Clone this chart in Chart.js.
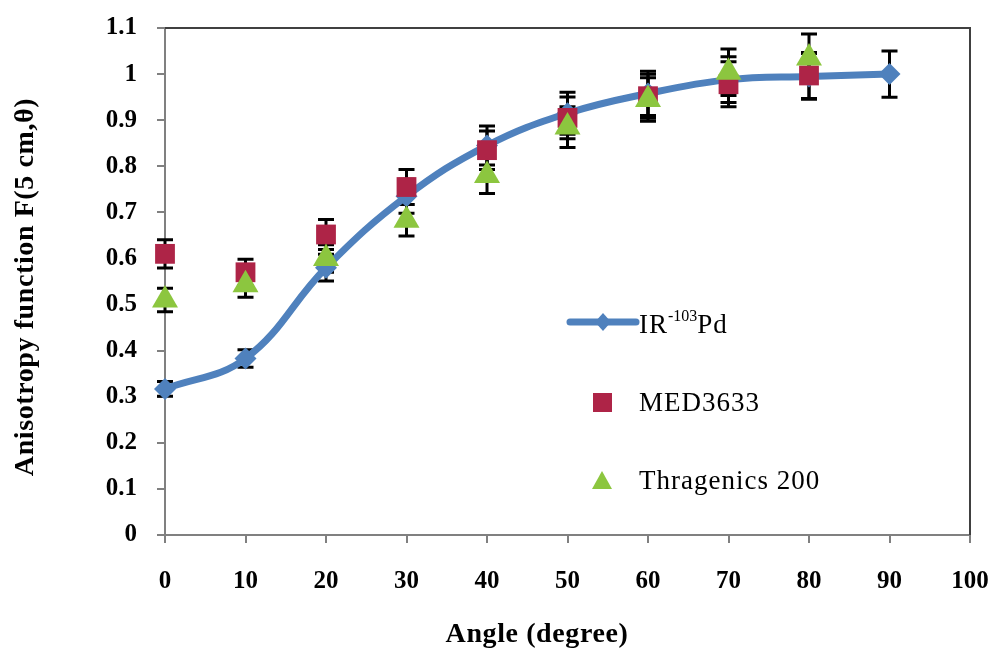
<!DOCTYPE html>
<html>
<head>
<meta charset="utf-8">
<script src="https://cdn.jsdelivr.net/npm/chart.js@4.4.1/dist/chart.umd.min.js"></script>
<style>
  html, body { margin: 0; padding: 0; background: #fff; }
  #wrap { width: 995px; height: 656px; position: relative; }
</style>
</head>
<body>
<div id="wrap"><canvas id="chart"></canvas></div>
<script>
// values
const angles = [0, 10, 20, 30, 40, 50, 60, 70, 80, 90];
const irPd = [0.317, 0.383, 0.58, 0.735, 0.845, 0.915, 0.958, 0.988, 0.995, 1.0];
const sourceAngles = [0, 10, 20, 30, 40, 50, 60, 70, 80];
const med3633 = [0.61, 0.57, 0.652, 0.755, 0.835, 0.905, 0.952, 0.978, 0.997];
const thragenics = [0.51, 0.543, 0.6, 0.683, 0.78, 0.885, 0.945, 1.004, 1.035];
const xTicks = [0, 10, 20, 30, 40, 50, 60, 70, 80, 90, 100];
const yTicks = [0, 0.1, 0.2, 0.3, 0.4, 0.5, 0.6, 0.7, 0.8, 0.9, 1, 1.1];
const errorFraction = 0.05;

const serif = "'Liberation Serif', 'Times New Roman', serif";
const blue = "#4F81BD";
const crimson = "#AE2447";
const green = "#8CC63F";

function toPoints(xs, ys) {
  return xs.map(function (x, i) { return { x: x, y: ys[i] }; });
}

const frame = {
  id: "frame",
  beforeDatasetsDraw(chart) {
    const a = chart.chartArea;
    const ctx = chart.ctx;
    ctx.save();
    ctx.strokeStyle = "#404040";
    ctx.lineWidth = 2;
    ctx.beginPath();
    ctx.moveTo(a.left, a.top);
    ctx.lineTo(a.right, a.top);
    ctx.lineTo(a.right, a.bottom);
    ctx.stroke();
    ctx.restore();
  }
};

const errorBars = {
  id: "errorBars",
  beforeDatasetsDraw(chart) {
    const ctx = chart.ctx;
    const yScale = chart.scales.y;
    ctx.save();
    ctx.strokeStyle = "#000";
    ctx.lineWidth = 3;
    chart.data.datasets.forEach(function (ds, i) {
      const meta = chart.getDatasetMeta(i);
      meta.data.forEach(function (pt, j) {
        const v = ds.data[j].y;
        const top = yScale.getPixelForValue(v * (1 + errorFraction));
        const bot = yScale.getPixelForValue(v * (1 - errorFraction));
        ctx.beginPath();
        ctx.moveTo(pt.x, top); ctx.lineTo(pt.x, bot);
        ctx.moveTo(pt.x - 8, top); ctx.lineTo(pt.x + 8, top);
        ctx.moveTo(pt.x - 8, bot); ctx.lineTo(pt.x + 8, bot);
        ctx.stroke();
      });
    });
    ctx.restore();
  }
};

const titles = {
  id: "titles",
  afterDraw(chart) {
    const ctx = chart.ctx;
    ctx.save();
    ctx.fillStyle = "#000";
    ctx.font = "bold 28px " + serif;
    ctx.letterSpacing = "0.6px";
    ctx.textAlign = "center";
    ctx.textBaseline = "middle";
    ctx.fillText("Angle (degree)", 537, 635);
    ctx.translate(26, 287);
    ctx.rotate(-Math.PI / 2);
    ctx.fillText("Anisotropy function F(5 cm,\u03b8)", 0, 0);
    ctx.restore();
  }
};

const legendBox = {
  id: "legendBox",
  afterDatasetsDraw(chart) {
    const ctx = chart.ctx;
    ctx.save();
    // IR-103Pd: line with diamond
    ctx.strokeStyle = blue;
    ctx.lineWidth = 7;
    ctx.lineCap = "round";
    ctx.beginPath();
    ctx.moveTo(570, 322);
    ctx.lineTo(636, 322);
    ctx.stroke();
    ctx.fillStyle = blue;
    ctx.beginPath();
    ctx.moveTo(603, 313); ctx.lineTo(611, 322); ctx.lineTo(603, 331); ctx.lineTo(595, 322);
    ctx.closePath();
    ctx.fill();
    // MED3633 square
    ctx.fillStyle = crimson;
    ctx.fillRect(593, 393, 19, 19);
    // Thragenics triangle
    ctx.fillStyle = green;
    ctx.beginPath();
    ctx.moveTo(602, 471); ctx.lineTo(612, 489); ctx.lineTo(592, 489);
    ctx.closePath();
    ctx.fill();

    ctx.fillStyle = "#000";
    ctx.textBaseline = "alphabetic";
    ctx.textAlign = "left";
    ctx.letterSpacing = "1px";
    ctx.font = "27px " + serif;
    let x = 639;
    ctx.fillText("IR", x, 333);
    x += ctx.measureText("IR").width;
    ctx.font = "16px " + serif;
    ctx.letterSpacing = "0px";
    ctx.fillText("-103", x, 321);
    x += ctx.measureText("-103").width;
    ctx.font = "27px " + serif;
    ctx.letterSpacing = "1px";
    ctx.fillText("Pd", x, 333);
    ctx.fillText("MED3633", 639, 411);
    ctx.fillText("Thragenics 200", 639, 489);
    ctx.restore();
  }
};

new Chart(document.getElementById("chart"), {
  type: "line",
  data: {
    datasets: [
      {
        label: "IR-103Pd",
        data: toPoints(angles, irPd),
        borderColor: blue,
        backgroundColor: blue,
        borderWidth: 7,
        tension: 0.4,
        pointStyle: "rectRot",
        pointRadius: 11,
        pointBorderWidth: 0,
        order: 3,
        clip: false
      },
      {
        label: "MED3633",
        data: toPoints(sourceAngles, med3633),
        showLine: false,
        backgroundColor: crimson,
        borderColor: crimson,
        pointStyle: "rect",
        pointRadius: 14,
        pointBorderWidth: 0,
        order: 2,
        clip: false
      },
      {
        label: "Thragenics 200",
        data: toPoints(sourceAngles, thragenics),
        showLine: false,
        backgroundColor: green,
        borderColor: green,
        pointStyle: "triangle",
        pointRadius: 15,
        pointBorderWidth: 0,
        order: 1,
        clip: false
      }
    ]
  },
  options: {
    responsive: true,
    maintainAspectRatio: false,
    animation: false,
    layout: { padding: { left: 0, right: 25, top: 28, bottom: 0 } },
    plugins: {
      legend: { display: false },
      tooltip: { enabled: false }
    },
    scales: {
      x: {
        type: "linear",
        min: 0,
        max: 100,
        afterFit: function (s) { s.height = 121; s.paddingLeft = 0; s.paddingRight = 0; },
        afterBuildTicks: function (s) { s.ticks = xTicks.map(function (v) { return { value: v }; }); },
        grid: { drawOnChartArea: false, tickLength: 8, color: "#808080", lineWidth: 2 },
        border: { color: "#808080", width: 2 },
        ticks: { color: "#000", padding: 24, maxRotation: 0, font: { family: serif, size: 25, weight: "bold" } }
      },
      y: {
        min: 0,
        max: 1.1,
        afterFit: function (s) { s.width = 165; s.paddingTop = 0; s.paddingBottom = 0; },
        afterBuildTicks: function (s) { s.ticks = yTicks.map(function (v) { return { value: v }; }); },
        grid: { drawOnChartArea: false, tickLength: 8, color: "#808080", lineWidth: 2 },
        border: { color: "#808080", width: 2 },
        ticks: {
          color: "#000",
          padding: 20,
          font: { family: serif, size: 25, weight: "bold" },
          callback: function (v) { return String(Math.round(v * 10) / 10); }
        }
      }
    }
  },
  plugins: [frame, errorBars, legendBox, titles]
});
</script>
</body>
</html>
